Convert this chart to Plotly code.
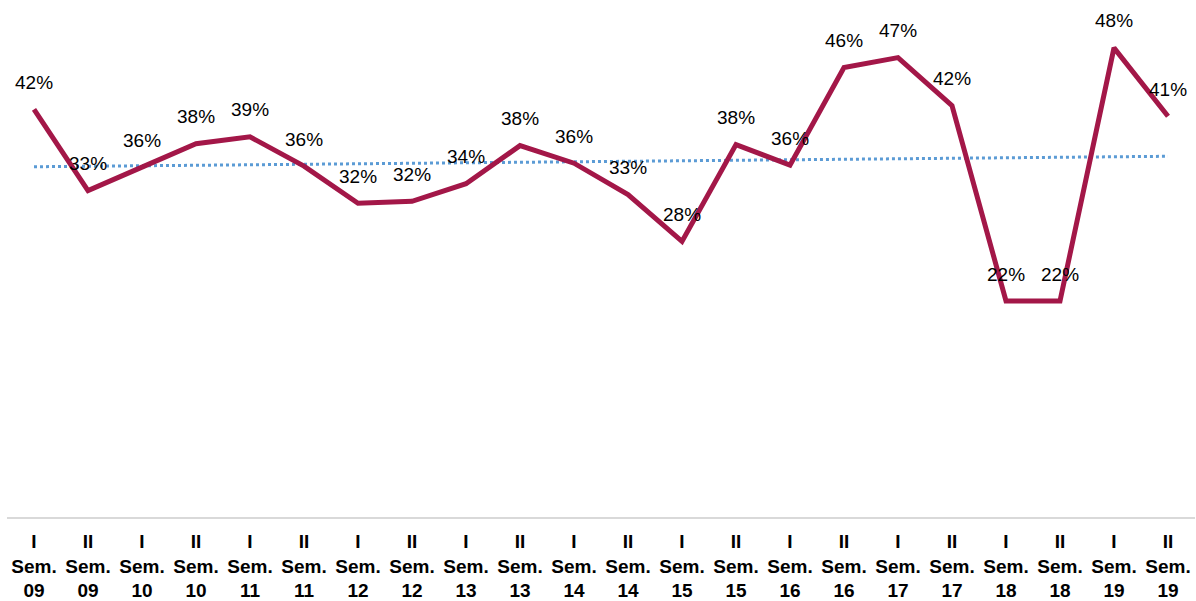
import numpy as np
import plotly.graph_objects as go

categories = ["I<br>Sem.<br>09", "II<br>Sem.<br>09", "I<br>Sem.<br>10", "II<br>Sem.<br>10",
              "I<br>Sem.<br>11", "II<br>Sem.<br>11", "I<br>Sem.<br>12", "II<br>Sem.<br>12",
              "I<br>Sem.<br>13", "II<br>Sem.<br>13", "I<br>Sem.<br>14", "II<br>Sem.<br>14",
              "I<br>Sem.<br>15", "II<br>Sem.<br>15", "I<br>Sem.<br>16", "II<br>Sem.<br>16",
              "I<br>Sem.<br>17", "II<br>Sem.<br>17", "I<br>Sem.<br>18", "II<br>Sem.<br>18",
              "I<br>Sem.<br>19", "II<br>Sem.<br>19"]
values = [41.7, 33.4, 35.8, 38.2, 38.9, 35.9, 32.1, 32.3, 34.1, 38.0, 36.2, 33.0,
          28.2, 38.1, 36.0, 46.0, 47.0, 42.1, 22.1, 22.1, 48.0, 41.0]

xi = np.arange(len(values))
slope, intercept = np.polyfit(xi, values, 1)
trend = slope * xi + intercept

fig = go.Figure()
fig.add_trace(go.Scatter(x=categories, y=trend, mode="lines",
                         line=dict(color="#5B9BD5", width=3, dash="dot"),
                         hoverinfo="skip", showlegend=False))
fig.add_trace(go.Scatter(x=categories, y=values, mode="lines",
                         line=dict(color="#A31748", width=5),
                         showlegend=False))

for c, v in zip(categories, values):
    fig.add_annotation(x=c, y=v, text=f"{round(v)}%", showarrow=False,
                       yshift=27, font=dict(family="Liberation Sans, Arial", size=19, color="#000000"))

fig.update_layout(
    width=1196, height=601,
    margin=dict(l=7, r=1, t=0, b=84, autoexpand=False),
    paper_bgcolor="white", plot_bgcolor="white",
    xaxis=dict(type="category", range=[-0.5, 21.5], showgrid=False, zeroline=False,
               showline=True, linecolor="#D9D9D9", linewidth=2, ticks="",
               automargin=False, ticklabelstandoff=6,
               tickfont=dict(family="Liberation Sans, Arial", size=19, color="#000000"),
               fixedrange=True),
    yaxis=dict(range=[0, 52.9], showgrid=False, zeroline=False, showticklabels=False,
               showline=False, fixedrange=True, automargin=False),
    font=dict(family="Liberation Sans, Arial"),
)
fig.update_xaxes(tickprefix="<b>", ticksuffix="</b>")

fig.write_html("out.html", config={"displayModeBar": False},
               post_script="document.body.style.margin='0';document.body.style.padding='0';")
